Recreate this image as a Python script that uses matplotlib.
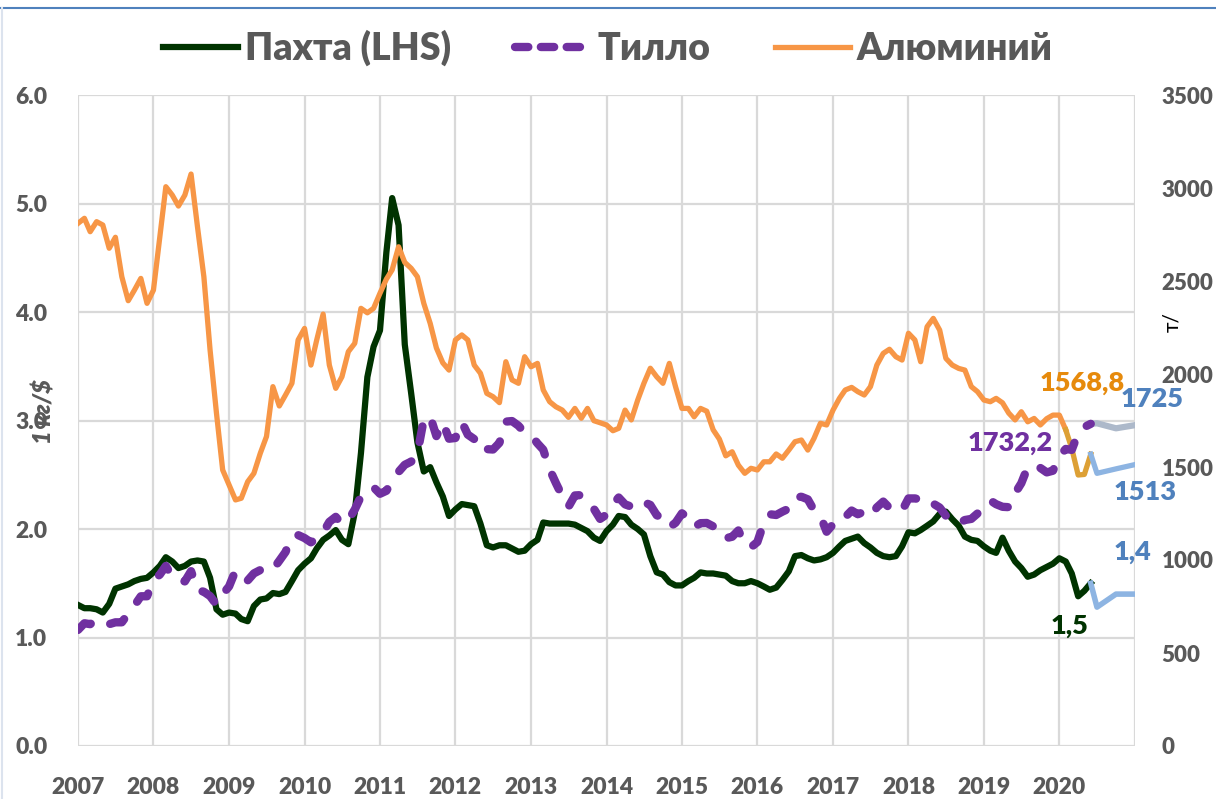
import matplotlib
matplotlib.use("Agg")
import matplotlib.pyplot as plt
import matplotlib.lines as mlines
import pandas as pd
import numpy as np

# ---------------- data ----------------
start_month = "2007-01-01"

cotton = [  # $/kg, monthly from Jan 2007 (LHS)
    1.30, 1.27, 1.27, 1.26, 1.23, 1.31, 1.45, 1.47, 1.49, 1.52, 1.54, 1.55,
    1.60, 1.66, 1.74, 1.70, 1.64, 1.66, 1.70, 1.71, 1.70, 1.55, 1.26, 1.21,
    1.23, 1.22, 1.17, 1.15, 1.29, 1.35, 1.36, 1.41, 1.40, 1.42, 1.52, 1.62,
    1.68, 1.73, 1.82, 1.90, 1.94, 1.99, 1.90, 1.86, 2.15, 2.70, 3.40, 3.68,
    3.83, 4.55, 5.05, 4.80, 3.70, 3.25, 2.80, 2.53, 2.57, 2.43, 2.30, 2.12,
    2.18, 2.23, 2.22, 2.21, 2.05, 1.85, 1.83, 1.85, 1.85, 1.82, 1.79, 1.80,
    1.86, 1.90, 2.06, 2.05, 2.05, 2.05, 2.05, 2.04, 2.01, 1.98, 1.92, 1.89,
    1.98, 2.04, 2.12, 2.11, 2.04, 2.00, 1.95, 1.75, 1.60, 1.58, 1.51, 1.48,
    1.48, 1.52, 1.55, 1.60, 1.59, 1.59, 1.58, 1.57, 1.52, 1.50, 1.50, 1.52,
    1.50, 1.47, 1.44, 1.46, 1.53, 1.61, 1.75, 1.76, 1.73, 1.71, 1.72, 1.74,
    1.78, 1.84, 1.89, 1.91, 1.93, 1.87, 1.83, 1.78, 1.75, 1.74, 1.75, 1.84,
    1.97, 1.96, 1.99, 2.03, 2.07, 2.14, 2.16, 2.09, 2.03, 1.93, 1.90, 1.89,
    1.84, 1.80, 1.78, 1.92, 1.80, 1.70, 1.64, 1.56, 1.58, 1.62, 1.65, 1.68,
    1.73, 1.70, 1.59, 1.38, 1.43, 1.50,
]

gold = [  # $/oz, monthly from Jan 2007 (RHS)
    624, 660, 655, 680, 670, 655, 665, 665, 712, 755, 805, 805,
    890, 922, 968, 910, 889, 885, 940, 839, 829, 806, 760, 816,
    858, 943, 924, 890, 928, 946, 934, 949, 996, 1043, 1127, 1134,
    1118, 1095, 1113, 1148, 1205, 1232, 1193, 1215, 1271, 1342, 1370, 1391,
    1356, 1372, 1424, 1474, 1512, 1529, 1572, 1756, 1772, 1666, 1739, 1652,
    1656, 1742, 1674, 1650, 1585, 1596, 1594, 1630, 1744, 1747, 1722, 1685,
    1671, 1627, 1593, 1487, 1414, 1343, 1286, 1347, 1349, 1316, 1275, 1221,
    1244, 1300, 1336, 1299, 1287, 1279, 1311, 1296, 1241, 1223, 1176, 1200,
    1251, 1227, 1178, 1198, 1199, 1181, 1128, 1117, 1125, 1159, 1086, 1068,
    1097, 1199, 1246, 1242, 1260, 1276, 1337, 1340, 1326, 1267, 1236, 1152,
    1192, 1234, 1231, 1266, 1246, 1260, 1236, 1283, 1314, 1280, 1282, 1265,
    1331, 1331, 1325, 1335, 1303, 1282, 1238, 1202, 1198, 1215, 1221, 1250,
    1291, 1320, 1300, 1286, 1284, 1359, 1413, 1500, 1510, 1495, 1471, 1480,
    1560, 1597, 1592, 1683, 1715, 1732.2,
]

aluminium = [  # $/t, monthly from Jan 2007 (RHS) through Feb 2020
    2810, 2837, 2765, 2819, 2801, 2676, 2735, 2523, 2394, 2451, 2514, 2380,
    2451, 2738, 3007, 2962, 2903, 2962, 3075, 2792, 2523, 2129, 1789, 1484,
    1403, 1323, 1332, 1421, 1466, 1574, 1664, 1932, 1828, 1887, 1950, 2183,
    2245, 2048, 2183, 2322, 2048, 1923, 1985, 2120, 2165, 2353, 2329, 2353,
    2434, 2510, 2560, 2684, 2600, 2568, 2523, 2380, 2272, 2140, 2060, 2021,
    2183, 2210, 2183, 2048, 2004, 1896, 1878, 1846, 2066, 1968, 1950, 2093,
    2039, 2057, 1914, 1851, 1824, 1806, 1767, 1815, 1762, 1815, 1749, 1738,
    1726, 1695, 1708, 1806, 1753, 1860, 1950, 2031, 1985, 1950, 2057, 1932,
    1815, 1815, 1770, 1815, 1800, 1700, 1650, 1560, 1582, 1510, 1466, 1493,
    1484, 1528, 1528, 1570, 1547, 1591, 1636, 1645, 1591, 1654, 1735, 1726,
    1806, 1869, 1914, 1928, 1905, 1887, 1932, 2048, 2111, 2133, 2093, 2075,
    2219, 2183, 2066, 2254, 2299, 2236, 2084, 2048, 2030, 2021, 1932, 1905,
    1860, 1851, 1869, 1845, 1790, 1753, 1797, 1743, 1761, 1726, 1760, 1779,
    1779, 1700,
]
# recent aluminium months (Feb 2020 .. Jun 2020), highlighted segment
aluminium_recent = [1700, 1600, 1457, 1460, 1568.8]
aluminium_recent_start = "2020-02-01"

# forecasts (Jun 2020 -> Jan 2021)
forecast_dates = ["2020-06-01", "2020-07-01", "2020-10-01", "2021-01-01"]
cotton_fc = [1.50, 1.28, 1.40, 1.40]
gold_fc = [1732.2, 1735, 1708, 1725]
aluminium_fc = [1568.8, 1466, 1490, 1513]

years = list(range(2007, 2021))
legend_labels = ["Пахта (LHS)", "Тилло", "Алюминий"]
left_label = "1 кг/$"
right_label = "т/"

# ---------------- style ----------------
C_COTTON = "#003300"
C_GOLD = "#7030A0"
C_ALU = "#F79646"
C_ALU_RECENT = "#DDA035"
C_FC = "#8DB4E2"
C_GOLD_FC = "#ADB9CA"
C_BLUE_LBL = "#4F81BD"
C_ALU_LBL = "#E68A0C"
C_TICK = "#595959"
C_GRID = "#D9D9D9"
FONT = ["Lato", "DejaVu Sans"]

plt.rcParams["font.family"] = FONT

cotton_dates = pd.date_range(start_month, periods=len(cotton), freq="MS")
gold_dates = pd.date_range(start_month, periods=len(gold), freq="MS")
alu_dates = pd.date_range(start_month, periods=len(aluminium), freq="MS")
alu_recent_dates = pd.date_range(aluminium_recent_start, periods=len(aluminium_recent), freq="MS")
fc_dates = pd.to_datetime(forecast_dates)

fig = plt.figure(figsize=(12.16, 7.99), dpi=100)
ax = fig.add_axes([78 / 1216, 1 - 746 / 799, (1135 - 78) / 1216, (746 - 95) / 799])
ax2 = ax.twinx()

# primary: cotton
ax.plot(cotton_dates, cotton, color=C_COTTON, lw=4.5, solid_joinstyle="round", zorder=3)
ax.plot(fc_dates, cotton_fc, color=C_FC, lw=4.0, solid_joinstyle="round", zorder=3)

# secondary: aluminium and gold
ax2.plot(alu_dates, aluminium, color=C_ALU, lw=3.8, solid_joinstyle="round", zorder=2)
ax2.plot(alu_recent_dates, aluminium_recent, color=C_ALU_RECENT, lw=3.8, solid_joinstyle="round", zorder=2)
ax2.plot(fc_dates, aluminium_fc, color=C_FC, lw=3.8, solid_joinstyle="round", zorder=2)
ax2.plot(gold_dates, gold, color=C_GOLD, lw=6.0, linestyle=(0, (1.9, 2.6)),
         dash_capstyle="round", solid_joinstyle="round", zorder=3)
ax2.plot(fc_dates, gold_fc, color=C_GOLD_FC, lw=4.5, solid_joinstyle="round", zorder=2)

# axes limits / ticks
xmin = pd.Timestamp("2007-01-01")
xmax = pd.Timestamp("2021-01-01")
ax.set_xlim(xmin, xmax)
ax.set_ylim(0, 6)
ax2.set_ylim(0, 3500)

ax.set_xticks([pd.Timestamp(f"{y}-01-01") for y in years] + [xmax])
ax.set_xticklabels([str(y) for y in years] + [""])
ax.set_yticks(np.arange(0, 6.01, 1.0))
ax.set_yticklabels([f"{v:.1f}" for v in np.arange(0, 6.01, 1.0)])
ax2.set_yticks(np.arange(0, 3501, 500))
ax2.set_yticklabels([str(v) for v in range(0, 3501, 500)])

for a in (ax, ax2):
    a.tick_params(length=0)
    for s in a.spines.values():
        s.set_visible(False)
ax.tick_params(axis="x", pad=22, labelsize=16.5, labelcolor=C_TICK)
ax.tick_params(axis="y", pad=22, labelsize=16.5, labelcolor=C_TICK)
ax2.tick_params(axis="y", pad=19, labelsize=16, labelcolor=C_TICK)
for lbl in ax.get_xticklabels() + ax.get_yticklabels() + ax2.get_yticklabels():
    lbl.set_fontweight("heavy")

ax.grid(True, color=C_GRID, lw=1.6, zorder=0)
ax.set_axisbelow(True)
ax2.set_zorder(ax.get_zorder() + 1)
ax.patch.set_visible(True)
ax2.patch.set_visible(False)

# axis titles
fig.text(44 / 1216, 1 - 412 / 799, left_label, rotation=90, ha="center", va="center",
         fontsize=17, fontweight="heavy", fontstyle="italic", color=C_TICK)
fig.text(1172 / 1216, 1 - 322 / 799, right_label, rotation=90, ha="center", va="center",
         fontsize=15, color="black")

# data labels
lbl_kw = dict(textcoords="offset points", ha="center", va="center", fontsize=19.5, fontweight="heavy")
ax2.annotate("1568,8", (fc_dates[0], aluminium_fc[0]), xytext=(-6, 51), color=C_ALU_LBL, **lbl_kw)
ax2.annotate("1725", (fc_dates[-1], gold_fc[-1]), xytext=(12, 19), color=C_BLUE_LBL, **lbl_kw)
ax2.annotate("1732,2", (fc_dates[0], gold_fc[0]), xytext=(-58, -14), color=C_GOLD, **lbl_kw)
ax2.annotate("1513", (fc_dates[-1], aluminium_fc[-1]), xytext=(7, -20), color=C_BLUE_LBL, **lbl_kw)
ax.annotate("1,4", (fc_dates[-1], cotton_fc[-1]), xytext=(-2, 30), color=C_BLUE_LBL, **lbl_kw)
ax.annotate("1,5", (fc_dates[0], cotton_fc[0]), xytext=(-15, -31), color=C_COTTON, **lbl_kw)

# legend
h1 = mlines.Line2D([], [], color=C_COTTON, lw=4.5)
h2 = mlines.Line2D([], [], color=C_GOLD, lw=6.0, linestyle=(0, (1.6, 1.5)), dash_capstyle="round")
h3 = mlines.Line2D([], [], color=C_ALU, lw=3.8)
leg = fig.legend([h1, h2, h3], legend_labels, loc="center", bbox_to_anchor=(0.5, 1 - 48 / 799),
                 ncol=3, frameon=False, fontsize=27, handlelength=2.0, handletextpad=0.2,
                 columnspacing=1.7)
for t in leg.get_texts():
    t.set_color(C_TICK)
    t.set_fontweight("heavy")

# chart border lines
fig.add_artist(mlines.Line2D([0, 1], [1 - 7.5 / 799, 1 - 7.5 / 799], transform=fig.transFigure,
                             color="#4F81BD", lw=1.5))
fig.add_artist(mlines.Line2D([1.5 / 1216, 1.5 / 1216], [0, 1 - 7.5 / 799], transform=fig.transFigure,
                             color="#DCE3EE", lw=1.5))

fig.savefig("out.png", dpi=100)
